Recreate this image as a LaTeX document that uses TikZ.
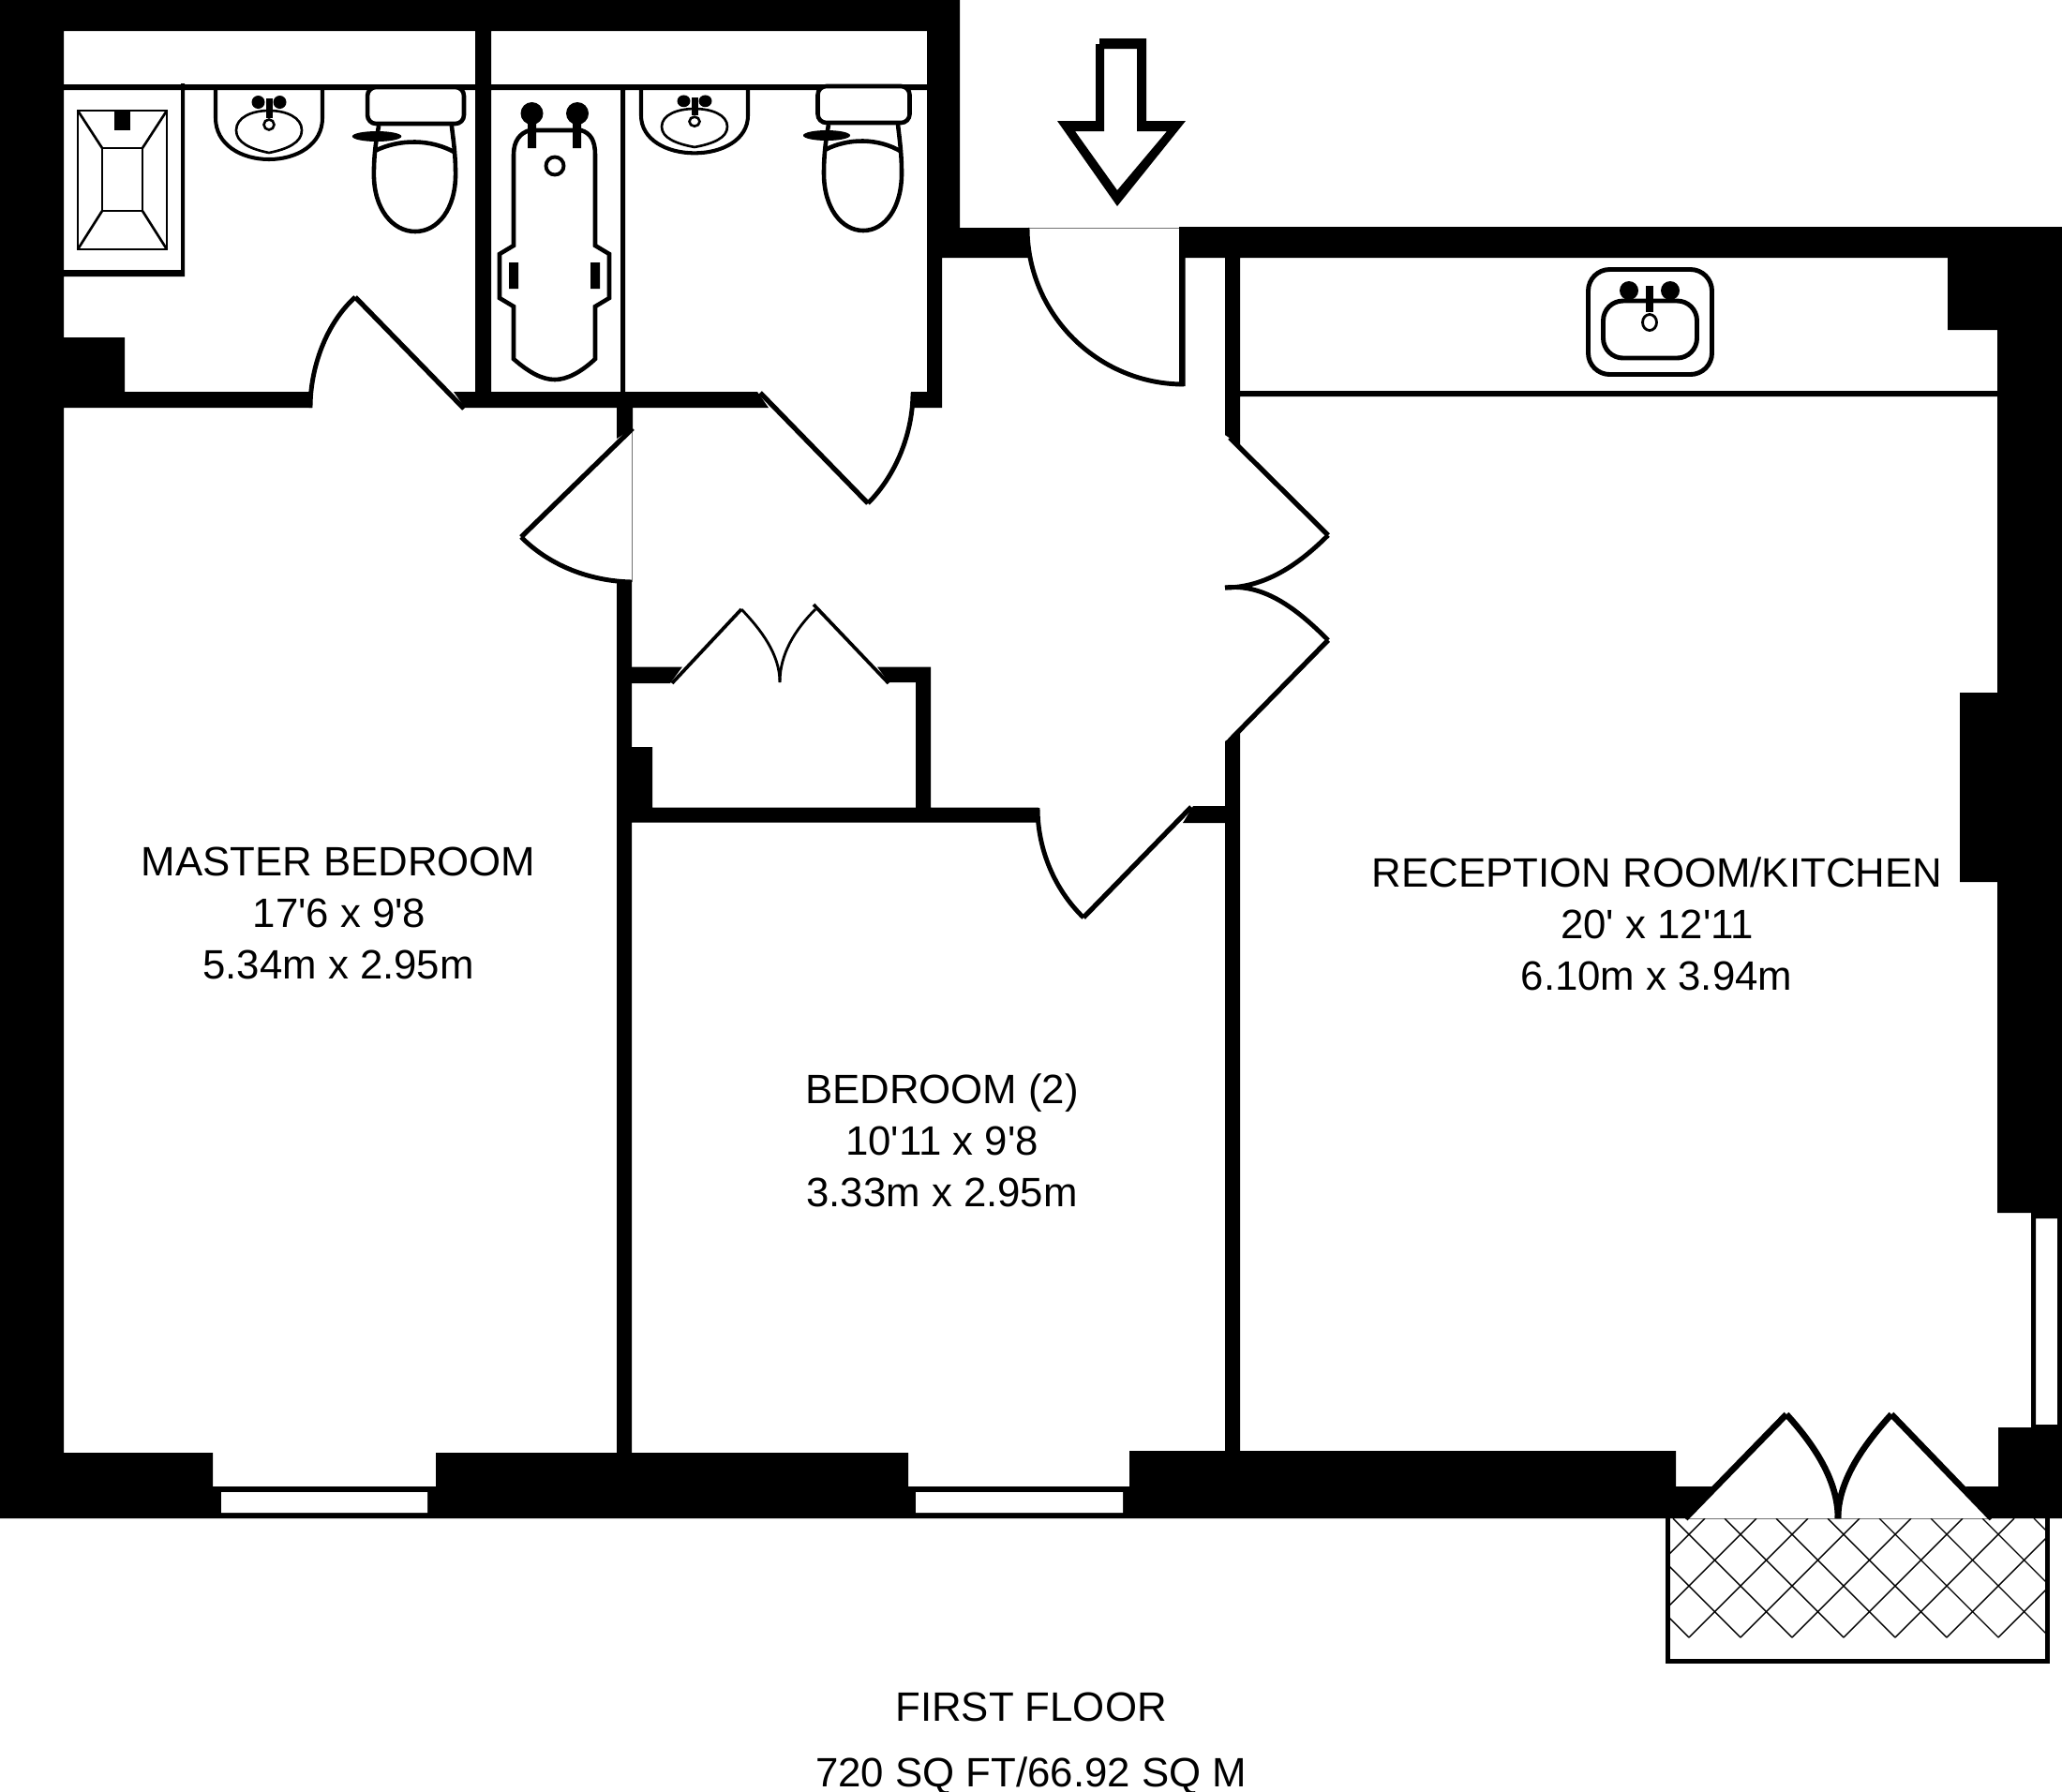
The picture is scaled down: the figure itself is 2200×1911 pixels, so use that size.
\documentclass[tikz,border=0pt]{standalone}
\usepackage{fontspec}
\setmainfont[Ligatures=TeXOff]{Liberation Sans}
\tikzset{
  fixture/.style={draw=black,line width=1.3pt,line join=miter,fill=none},
  doorleaf/.style={draw=black,line width=1.5pt,line cap=butt,line join=miter},
  doorswing/.style={draw=black,line width=1.4pt},
  cupboardleaf/.style={draw=black,line width=1.05pt},
  cupboardswing/.style={draw=black,line width=0.8pt},
  balconyleaf/.style={draw=black,line width=1.9pt,line join=miter},
  threshold/.style={draw=black!55,line width=0.25pt},
  lattice/.style={draw=black,line width=0.4pt},
  roomtext/.style={anchor=base,inner sep=0pt,font=\fontsize{12.45}{14}\selectfont}
}
\newcommand{\basin}[2]{%
  \begin{scope}[shift={(#1,96)},yscale=#2]
    \draw[line width=1.15pt] (-57,0) -- (-57,30) .. controls (-57,58) and (-30,74) .. (0,74) .. controls (30,74) and (57,58) .. (57,30) -- (57,0);
    \draw[line width=0.75pt] (0,67) .. controls (-20,63) and (-35,56) .. (-35,43) .. controls (-35,29) and (-18,22) .. (0,22) .. controls (18,22) and (35,29) .. (35,43) .. controls (35,56) and (20,63) .. (0,67);
    \fill (-11.5,13) circle[radius=7];
    \fill (11.5,13) circle[radius=7];
    \fill (-3.5,9) rectangle (3.5,30);
    \draw[fill=white,line width=0.75pt] (0,37) circle[radius=5.5];
  \end{scope}}
\newcommand{\wc}[3]{%
  \begin{scope}[shift={(921+#1,#2)},xscale=#3,shift={(-921,0)}]
    \draw[fixture,rounded corners=2.6pt,fill=white] (872.5,92) rectangle (970.5,131);
    \draw[fixture] (884,133) .. controls (881,150) and (879,165) .. (879,185) .. controls (879,222) and (898,246) .. (921,246) .. controls (944,246) and (962,222) .. (962,185) .. controls (962,165) and (960,150) .. (958,133);
    \draw[fixture] (880,160) .. controls (905,147) and (937,147) .. (962,162);
    \fill (882,144.5) ellipse[x radius=25,y radius=5.5];
  \end{scope}}
\begin{document}
\begin{tikzpicture}[x=0.01cm,y=-0.01cm]
\useasboundingbox (0,0) rectangle (2200,1911);
% walls
\fill[black]
  (0,0) rectangle (1024,33)
  (0,0) rectangle (68,1620)
  (989,0) rectangle (1024,275)
  (989,275) rectangle (1005,435)
  (1005,243) rectangle (1097,275)
  (1258,242) rectangle (2200,275)
  (2131,242) rectangle (2200,1294)
  (2078,275) rectangle (2131,352)
  (2091,739) rectangle (2131,941)
  (2167,1294) rectangle (2172,1523)
  (2172,1294) rectangle (2200,1300)
  (2195,1300) rectangle (2200,1520)
  (2172,1520) rectangle (2200,1523)
  (2132,1523) rectangle (2200,1620)
  (68,1550) rectangle (227,1620)
  (227,1586) rectangle (465,1620)
  (465,1550) rectangle (969,1620)
  (969,1586) rectangle (1205,1620)
  (1205,1548) rectangle (1788,1620)
  % thin partition and shower box
  (68,90) rectangle (667,96)
  (662,90) rectangle (667,418)
  (667,90) rectangle (989,96)
  (193,89) rectangle (197,295)
  (68,288) rectangle (197,295)
  % bathroom walls
  (507,33) rectangle (524,418)
  (68,360) rectangle (133,435)
  (68,418) rectangle (333,435)
  (972,418) rectangle (1005,435)
  % bedroom/hall walls
  (658,621) rectangle (674,1586)
  (977,728) rectangle (993,862)
  (674,797) rectangle (696,862)
  (658,861.5) rectangle (1108,877.6)
  (1307,242) rectangle (1323,464)
  (1307,791) rectangle (1323,1586)
  (1323,417) rectangle (2131,423)
  (1258,275) rectangle (1264.5,412);
% slanted wall ends beside the doors
\fill[black] (1788,1586) -- (1827,1586) -- (1798,1620) -- (1788,1620) -- cycle;
\fill[black] (2097,1586) -- (2132,1586) -- (2132,1620) -- (2125,1620) -- cycle;
\fill[black] (484,418) -- (808,418) -- (820,435) -- (496,435) -- cycle;
\fill[black] (658,435) -- (675,435) -- (675,457) -- (658,468) -- cycle;
\fill[black] (674,711.5) -- (728,711.5) -- (715,729) -- (674,729) -- cycle;
\fill[black] (936,711.5) -- (993,711.5) -- (993,728) -- (948,728) -- cycle;
\fill[black] (1273,860) -- (1307,860) -- (1307,878) -- (1262,878) -- cycle;
\fill[black] (1307,464) -- (1323,464) -- (1323,475) -- cycle;
\fill[black] (1307,791) -- (1323,779) -- (1323,791) -- cycle;
% window glazing
\fill[white] (236,1592) rectangle (456,1614) (977,1592) rectangle (1198,1614);
% thresholds
\draw[threshold] (1097,243) -- (1258,243);
\draw[threshold] (674.5,457) -- (674.5,621);
\draw[threshold] (1798,1620) -- (2125,1620);
% bathroom 1 door
\draw[doorleaf] (379,317) -- (495,436);
\draw[doorswing] (331,435) .. controls (331,392) and (348,345) .. (379,317);
% bathroom 2 door
\draw[doorleaf] (811,419) -- (926,537);
\draw[doorswing] (974,419) .. controls (974,462) and (956,507) .. (926,537);
% master bedroom door
\draw[doorleaf] (675,457) -- (556,573);
\draw[doorswing] (556,573) .. controls (587,604) and (630,620) .. (674,621);
% cupboard doors
\draw[cupboardleaf] (717,729) -- (791,650);
\draw[cupboardleaf] (868,645) -- (948,729);
\draw[cupboardswing] (791,650) .. controls (812,672) and (832,698) .. (832,728);
\draw[cupboardswing] (870,650) .. controls (848,672) and (832,698) .. (832,728);
% bedroom 2 door
\draw[doorleaf] (1156,979) -- (1271,861);
\draw[doorswing] (1107,862) .. controls (1107,906) and (1125,949) .. (1156,979);
% reception double doors
\draw[doorleaf] (1312,467) -- (1417,571);
\draw[doorswing] (1417,571) .. controls (1386,602) and (1350,627) .. (1307,627);
\draw[doorswing] (1307,627) .. controls (1350,622) and (1386,652) .. (1417,683);
\draw[doorleaf] (1417,683) -- (1312,790);
% entrance door
\draw[doorswing] (1096,243) .. controls (1096,335) and (1171,410) .. (1263,410);
% balcony lattice
\begin{scope}
  \clip (1782,1620) rectangle (2182,1747.5);
  \foreach \k in {-8,...,14}{
    \draw[lattice] ({1802+55*\k},1747) -- ({1802+55*\k-127},1620);
    \draw[lattice] ({1802+55*\k},1747) -- ({1802+55*\k+127},1620);
  }
\end{scope}
\draw[line width=1.4pt] (1779.5,1620) -- (1779.5,1772.5) -- (2184.5,1772.5) -- (2184.5,1620);
% balcony doors
\draw[balconyleaf] (1798,1620) -- (1906,1509);
\draw[balconyleaf] (2018,1509) -- (2125,1620);
\draw[balconyleaf] (1906,1509) .. controls (1936,1542) and (1961,1580) .. (1961,1620);
\draw[balconyleaf] (2018,1509) .. controls (1988,1542) and (1961,1580) .. (1961,1620);
% shower
\draw[line width=0.75pt] (83,118) rectangle (178,266) (109,158) rectangle (152,225);
\draw[line width=0.75pt] (83,118) -- (109,158) (178,118) -- (152,158) (83,266) -- (109,225) (178,266) -- (152,225);
\fill (122,118) rectangle (139,139);
% basins and WCs
\basin{287}{1}
\basin{741}{0.91}
\wc{-478}{1}{1.05}
\wc{0}{0}{1}
% bath
\draw[fixture] (548,165) .. controls (548,150) and (555,142) .. (565,139) -- (620,139) .. controls (630,142) and (635,150) .. (635,165) -- (635,262) -- (650,271) -- (650,318) -- (635,327) -- (635,383) .. controls (620,397) and (605,405) .. (592,405) .. controls (578,405) and (564,397) .. (548,383) -- (548,327) -- (533,318) -- (533,271) -- (548,262) -- cycle;
\fill (567.5,121) circle[radius=12] (616,121) circle[radius=12];
\fill (563,125) rectangle (572,158) (611,125) rectangle (620,158);
\draw[line width=1.1pt] (592,177) circle[radius=9.5];
\fill (543,280) rectangle (553,308) (630,280) rectangle (640,308);
% kitchen sink
\draw[line width=1.4pt,rounded corners=6.5pt] (1694.5,287.5) rectangle (1826.5,399.5);
\draw[line width=1.4pt,rounded corners=6pt] (1710.5,321) rectangle (1810.5,382);
\fill (1738,310) ellipse[x radius=10,y radius=10] (1782,310) ellipse[x radius=10,y radius=10];
\fill (1756,305) rectangle (1764,333);
\draw[line width=0.8pt] (1760,344) ellipse[x radius=7.5,y radius=8.5];
% entrance arrow
\fill[even odd rule] (1173,41) -- (1223,41) -- (1223,129) -- (1265,129) -- (1192,220) -- (1128,129) -- (1169,129) -- (1169,47) -- (1173,47) -- cycle
  (1178,52) -- (1213,52) -- (1213,140) -- (1245,140) -- (1192,203) -- (1147,140) -- (1178,140) -- cycle;
% labels
\node[roomtext] (mb1) at (361,934.4) {MASTER BEDROOM};
\node[roomtext] (mb2) at (362,989.4) {17'6 x 9'8};
\node[roomtext] (mb3) at (361,1044.4) {5.34m x 2.95m};
\node[roomtext] (b1) at (1005,1177.4) {BEDROOM (2)};
\node[roomtext] (b2) at (1005,1232.4) {10'11 x 9'8};
\node[roomtext] (b3) at (1005,1287.4) {3.33m x 2.95m};
\node[roomtext] (r1) at (1768,946.4) {RECEPTION ROOM/KITCHEN};
\node[roomtext] (r2) at (1768,1001.4) {20' x 12'11};
\node[roomtext] (r3) at (1767.5,1056.4) {6.10m x 3.94m};
\node[roomtext] (f1) at (1100,1836) {FIRST FLOOR};
\node[roomtext] (f2) at (1100,1906) {720 SQ FT/66.92 SQ M};
\end{tikzpicture}
\end{document}
